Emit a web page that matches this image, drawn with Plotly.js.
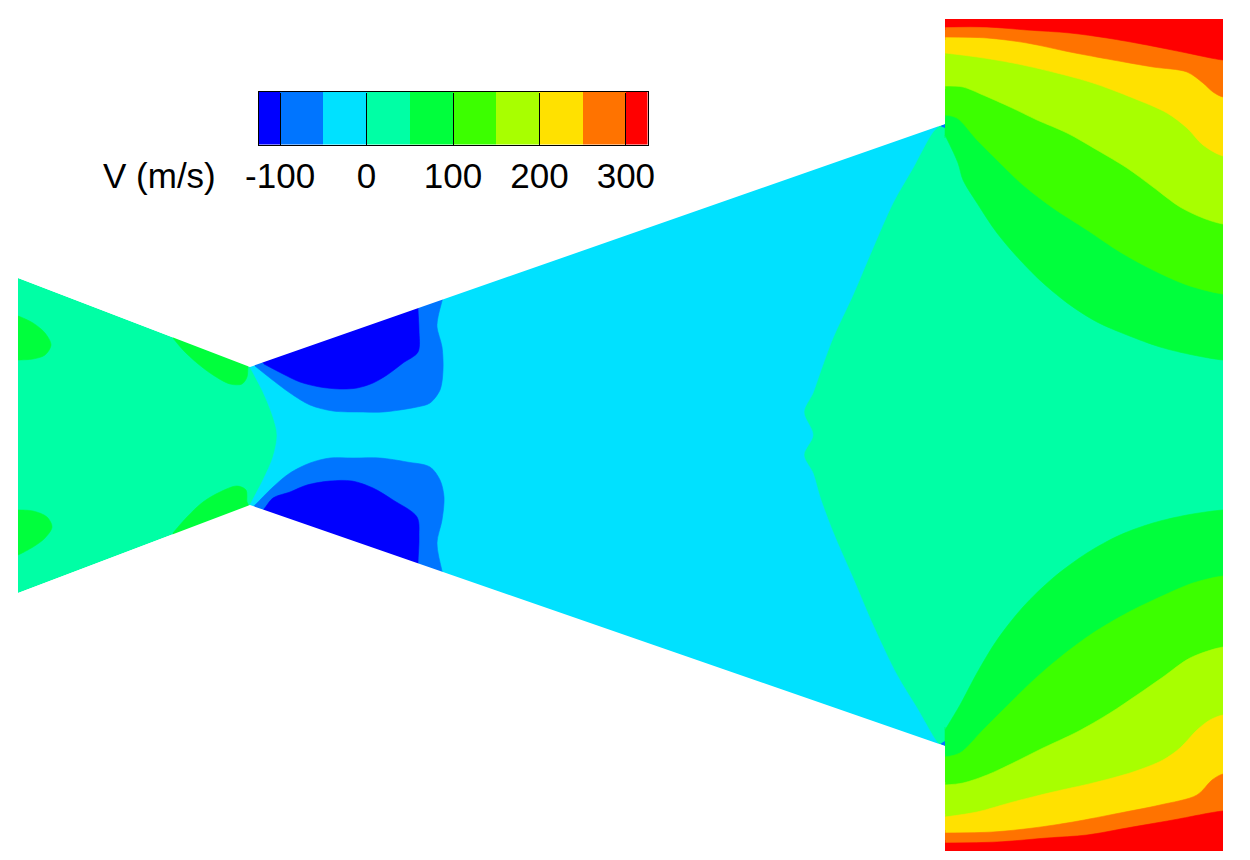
<!DOCTYPE html>
<html><head><meta charset="utf-8">
<script src="https://cdn.plot.ly/plotly-3.0.1.min.js"></script>
<style>html,body{margin:0;padding:0;background:#fff}#c{width:1250px;height:860px}</style>
</head><body><div id="c"></div>
<script>
// Legend levels (m/s) and band colours
const levels = [-125,-100,-50,0,50,100,150,200,250,300,325];
const colors = ['#0000ff','#0075ff','#00e1ff','#00ffa5','#00ff3c','#3cff00','#a8ff00','#ffe100','#ff7300','#ff0000'];
const tickVals = [-100,0,100,200,300];
const tickText = ['-100','0','100','200','300'];

// Nozzle outline (image-plane coordinates)
const wallX = [18,250,945,945,1223,1223,945,945,250,18];
const wallY = [278,367,124,19,19,851,851,746,505,593];

// 0 contour (cyan / mint boundary); closing points lie beyond the walls
const zeroX = [246,250,263,273,277,273,263,250,246, 450,700,948, 943,937,917,897,873,853,833,820,813,804,813,804,813,820,833,853,873,893,913,933,943, 948,700,450];
const zeroY = [358,367,392,417,435,457,480,505,514, 630,720,755, 748,742,708,675,625,578,532,497,473,455,435,412,393,373,338,295,248,203,168,132,122, 115,150,240];

// -50 contours
const blueTopX = [247,345,446,442,438,437,442,443,440,430,417,383,363,333,310,290,270,255];
const blueTopY = [360,315,285,301,317,327,347,370,390,403,407,412,412,411,405,393,378,366];
const blueBotX = [247,255,273,290,310,330,353,380,407,430,440,444,442,437,442,446,345];
const blueBotY = [512,505,487,473,463,458,458,458,462,467,480,497,520,543,571,588,560];
// -100 contours
const deepTopX = [258,340,418,418,419,418,403,387,373,357,340,320,300,283,264];
const deepTopY = [359,315,295,309,330,352,363,375,383,388,389,387,382,374,364];
const deepBotX = [258,264,273,290,307,330,352,373,393,417,419,418,418,340];
const deepBotY = [515,509,498,492,485,481,481,488,500,517,537,563,578,550];

// 50 contours in the converging section
const inletTopX = [10,18,33,45,51,45,33,18,10];
const inletTopY = [314,316,323,333,345,355,359,360,360];
const inletBotX = [10,18,33,45,52,47,33,18,10];
const inletBotY = [558,555,547,538,527,517,511,510,510];
const convTopX = [170,210,250,248,247,242,230,213,197,183,173];
const convTopY = [330,340,358,367,377,384,384,375,363,350,338];
const convBotX = [173,187,203,220,237,246,247,248,250,210,170];
const convBotY = [533,517,502,492,486,490,502,504,512,530,542];

// Exit plane, upper half: contours 50,100,150,200,250,300
const up50X  = [945,958,963,977,997,1020,1043,1070,1097,1127,1160,1193,1223];
const up50Y  = [135,163,180,203,233,260,283,305,322,335,347,355,360];
const up100X = [945,957,977,997,1023,1053,1087,1120,1153,1187,1223];
const up100Y = [115,118,140,160,185,208,230,252,270,285,294];
const up150X = [945,963,983,1010,1037,1067,1097,1127,1153,1180,1203,1223];
const up150Y = [86,87,95,107,120,133,150,168,187,207,218,224];
const up200X = [945,977,1013,1053,1093,1133,1167,1187,1203,1223];
const up200Y = [53,57,63,72,83,98,113,128,145,156];
const up250X = [945,987,1027,1070,1113,1153,1187,1203,1213,1223];
const up250Y = [37,38,43,52,60,67,72,83,92,97];
const up300X = [945,987,1027,1070,1107,1147,1187,1223];
const up300Y = [27,27,30,33,38,45,53,60];

// Exit plane, lower half
const lo50X  = [945,960,977,997,1023,1053,1087,1120,1153,1187,1223];
const lo50Y  = [730,705,673,640,607,578,553,535,523,515,510];
const lo100X = [945,960,983,1010,1037,1063,1093,1127,1160,1193,1223];
const lo100Y = [757,753,730,703,677,655,633,613,597,583,576];
const lo150X = [945,963,987,1013,1043,1077,1110,1137,1163,1190,1223];
const lo150Y = [785,783,775,763,748,732,713,695,677,658,647];
const lo200X = [945,977,1013,1053,1093,1133,1163,1180,1197,1210,1223];
const lo200Y = [817,812,802,792,783,772,760,748,730,720,715];
const lo250X = [945,993,1033,1073,1120,1160,1197,1212,1223];
const lo250Y = [833,832,828,822,813,805,795,780,774];
const lo300X = [945,997,1047,1087,1127,1173,1223];
const lo300Y = [843,842,838,835,828,820,811];

// Small corner cells at the exit-plane step
const cornerTopX = [940,945,945], cornerTopY = [126,124,128];
const cornerBotX = [940,945,945], cornerBotY = [744,746,741];

const W=1250,H=860;
const EXIT_L = 945, EXIT_R = 1223, EXIT_T = 19, EXIT_B = 851;
const base = (x,y,c) => ({type:'scatter',mode:'lines',x:x,y:y,fill:'toself',fillcolor:c,
  line:{width:0,color:c},hoverinfo:'skip',showlegend:false});
const poly = (x,y,c) => { const t = base(x,y,c); t.line = {width:0.6,color:c,shape:'spline',smoothing:0.9}; return t; };
const band = (x,y,c,farY,dir) => {
  const n = y.length;
  return poly(
    x.concat([EXIT_R+15,EXIT_R+15,EXIT_L+5,EXIT_L,EXIT_L,EXIT_L]),
    y.concat([y[n-1],farY,farY,farY,farY-dir*5,y[0]+dir*3]), c);
};
const upper = (x,y,c) => band(x,y,c,EXIT_T-15,1);
const lower = (x,y,c) => band(x,y,c,EXIT_B+5,-1);

// White surround, so that contour fills end exactly on the nozzle walls
const maskX = wallX.concat([18,0,0,W,W,0,0]);
const maskY = wallY.concat([278,278,H,H,0,0,278]);

const [cDeep,cBlue,cCyan,cMint,cGreen,cLime,cYG,cYel,cOra,cRed] = colors;
const traces = [
  base(wallX,wallY,cMint),
  poly(zeroX,zeroY,cCyan),
  poly(blueTopX,blueTopY,cBlue), poly(blueBotX,blueBotY,cBlue),
  poly(deepTopX,deepTopY,cDeep), poly(deepBotX,deepBotY,cDeep),
  poly(inletTopX,inletTopY,cGreen), poly(inletBotX,inletBotY,cGreen),
  poly(convTopX,convTopY,cGreen), poly(convBotX,convBotY,cGreen),
  upper(up50X,up50Y,cGreen), upper(up100X,up100Y,cLime), upper(up150X,up150Y,cYG),
  upper(up200X,up200Y,cYel), upper(up250X,up250Y,cOra), upper(up300X,up300Y,cRed),
  lower(lo50X,lo50Y,cGreen), lower(lo100X,lo100Y,cLime), lower(lo150X,lo150Y,cYG),
  lower(lo200X,lo200Y,cYel), lower(lo250X,lo250Y,cOra), lower(lo300X,lo300Y,cRed),
  base(cornerTopX,cornerTopY,cBlue), base(cornerBotX,cornerBotY,cBlue),
  base(maskX,maskY,'#ffffff'),
  {type:'bar',orientation:'h',xaxis:'x2',yaxis:'y2',width:1,
   y:colors.map(()=>0),
   base:levels.slice(0,-1),
   x:levels.slice(1).map((v,i)=>v-levels[i]),
   marker:{color:colors,line:{width:0}},hoverinfo:'skip',showlegend:false}
];

const layout = {
  width:W,height:H,margin:{l:0,r:0,t:0,b:0,pad:0},
  paper_bgcolor:'#fff',plot_bgcolor:'rgba(0,0,0,0)',showlegend:false,
  barmode:'overlay',bargap:0,
  font:{family:'"Liberation Sans",Arial,sans-serif',color:'#000',size:35},
  xaxis:{domain:[0,1],range:[0,W],visible:false,fixedrange:true},
  yaxis:{domain:[0,1],range:[H,0],visible:false,fixedrange:true},
  xaxis2:{anchor:'y2',domain:[258.5/W,647.5/W],range:[levels[0],levels[levels.length-1]],
    tickmode:'array',tickvals:tickVals,ticktext:tickText,ticks:'inside',ticklen:52,tickwidth:1,tickcolor:'#000',
    showline:true,linecolor:'#000',linewidth:1,mirror:true,showgrid:false,zeroline:false,
    ticklabelstandoff:0,tickfont:{size:35,color:'#000'},fixedrange:true},
  yaxis2:{anchor:'x2',domain:[1-144.5/H,1-92/H],range:[-0.5,0.5],showticklabels:false,ticks:'',
    showline:true,linecolor:'#000',linewidth:1,mirror:true,showgrid:false,zeroline:false,fixedrange:true},
  annotations:[{xref:'paper',yref:'paper',x:218/W,y:1-175/H,xanchor:'right',yanchor:'middle',
    text:'V (m/s)',showarrow:false,font:{size:35,color:'#000'}}]
};
Plotly.newPlot('c',traces,layout,{displayModeBar:false,staticPlot:true});
</script></body></html>
